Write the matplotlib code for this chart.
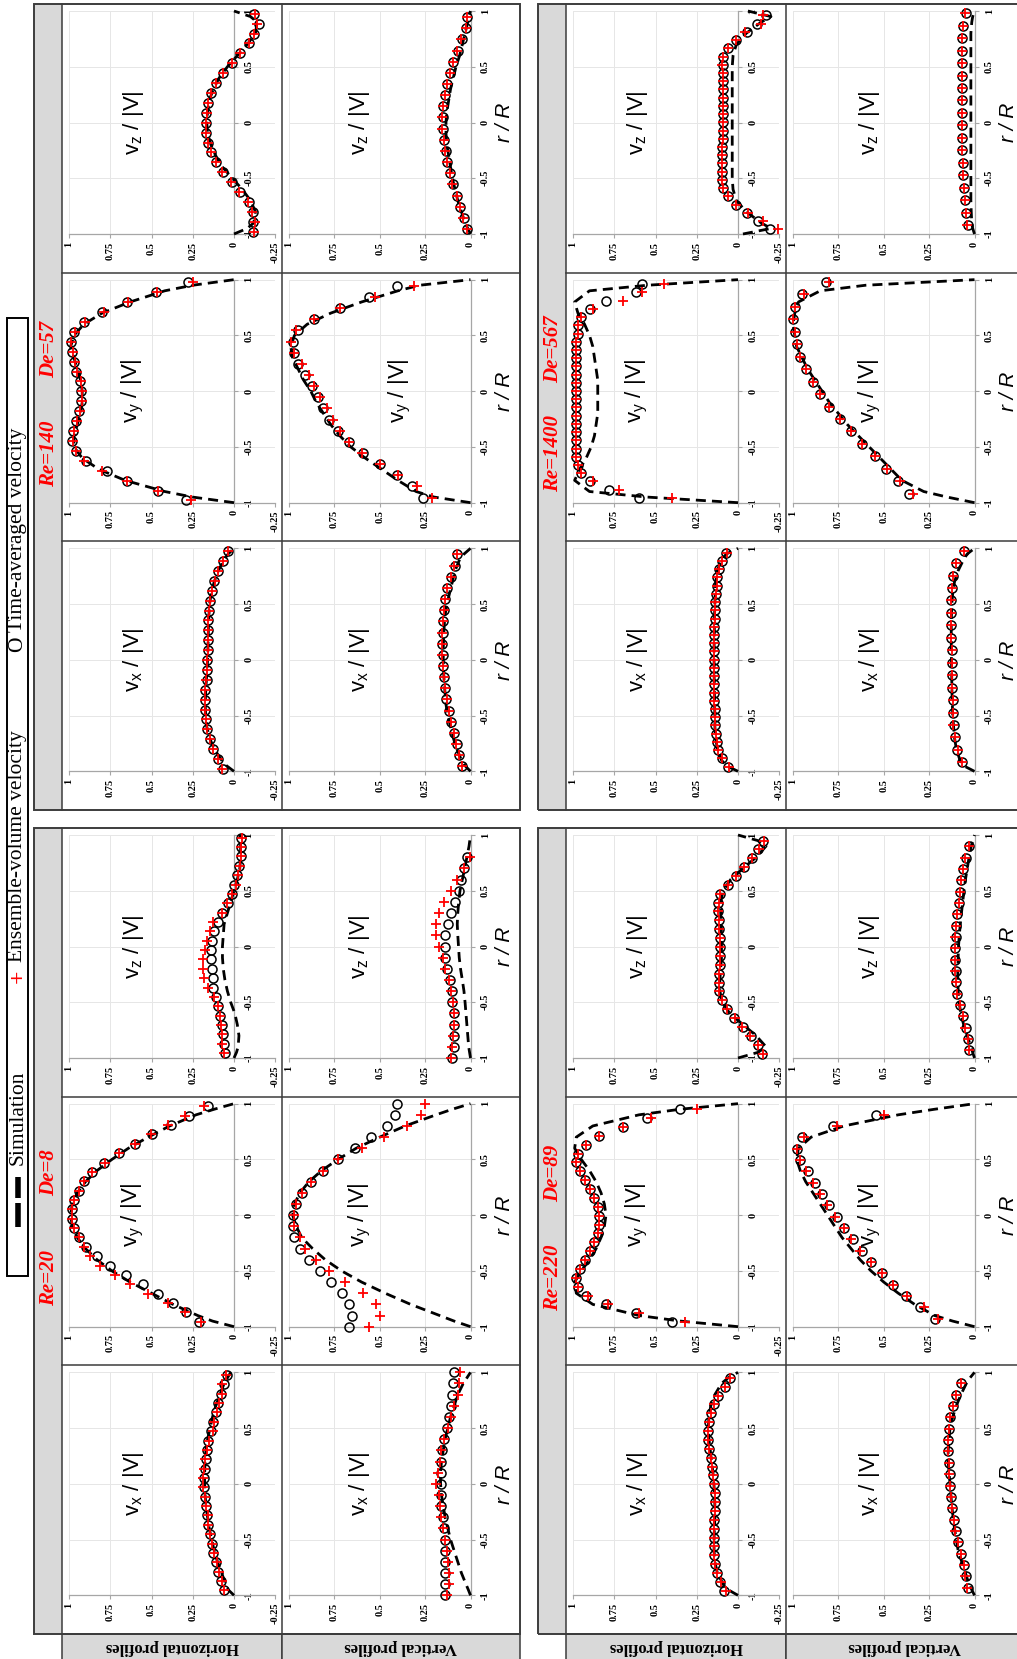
import matplotlib
matplotlib.use("Agg")
import matplotlib.pyplot as plt
from matplotlib.patches import Rectangle
from matplotlib.lines import Line2D

nan = float("nan")

plt.rcParams['mathtext.fontset'] = 'custom'
plt.rcParams['mathtext.rm'] = 'Liberation Sans'
plt.rcParams['mathtext.it'] = 'Liberation Sans:italic'
plt.rcParams['mathtext.default'] = 'regular'

# ---------------------------------------------------------------- data
# r/R grid of the simulation curves
RS = [-1.0, -0.95, -0.9, -0.8, -0.7, -0.6, -0.5, -0.4, -0.3, -0.2, -0.1, 0.0,
      0.1, 0.2, 0.3, 0.4, 0.5, 0.6, 0.7, 0.8, 0.9, 0.95, 1.0]

# ---- Re=20, De=8
RH20 = [-0.955, -0.871, -0.787, -0.703, -0.619, -0.536, -0.452, -0.368, -0.284, -0.200, -0.116, -0.032,
        0.052, 0.136, 0.220, 0.304, 0.388, 0.472, 0.556, 0.640, 0.724, 0.808, 0.892, 0.976]
RV20 = [-1.0, -0.9, -0.8, -0.7, -0.6, -0.5, -0.4, -0.3, -0.2, -0.1, 0.0,
        0.1, 0.2, 0.3, 0.4, 0.5, 0.6, 0.7, 0.8, 0.9, 1.0]
re20_vz_h_circ = [0.055, 0.06, 0.065, 0.075, 0.085, 0.095, 0.11, 0.125, 0.13, 0.135, 0.14, 0.14, 0.135, 0.12, 0.095, 0.07, 0.034, 0.014, 0.0, -0.02, -0.03, -0.04, -0.04, -0.04]
re20_vz_h_plus = [0.06, 0.07, 0.07, 0.08, 0.085, 0.095, 0.12, 0.16, 0.18, 0.185, 0.19, 0.175, 0.165, 0.145, 0.125, 0.075, 0.04, 0.014, -0.01, -0.025, -0.035, -0.04, -0.045, -0.05]
re20_vz_h_sim = [0.0, -0.015, -0.025, -0.03, -0.02, -0.005, 0.02, 0.04, 0.055, 0.065, 0.07, 0.07, 0.065, 0.06, 0.04, 0.02, 0.0, -0.02, -0.035, -0.04, -0.04, -0.04, -0.035]
re20_vz_v_circ = [0.10, 0.093, 0.093, 0.093, 0.09, 0.10, 0.10, 0.115, 0.13, 0.138, 0.14, 0.138, 0.125, 0.105, 0.085, 0.066, 0.05, 0.035, 0.02, nan, nan]
re20_vz_v_plus = [0.105, 0.1, 0.095, 0.09, 0.093, 0.095, 0.105, 0.12, 0.138, 0.15, 0.175, 0.19, 0.19, 0.175, 0.145, 0.105, 0.074, 0.037, 0.004, nan, nan]
re20_vz_v_sim = [0.0, 0.005, 0.01, 0.015, 0.02, 0.025, 0.03, 0.036, 0.045, 0.055, 0.062, 0.066, 0.07, 0.073, 0.07, 0.065, 0.058, 0.045, 0.032, 0.02, 0.008, 0.004, 0.0]
re20_vy_h_circ = [0.21, 0.29, 0.37, 0.46, 0.55, 0.655, 0.75, 0.83, 0.90, 0.94, 0.97, 0.98, 0.98, 0.97, 0.94, 0.91, 0.86, 0.79, 0.70, 0.60, 0.495, 0.38, 0.27, 0.16]
re20_vy_h_plus = [0.20, 0.30, 0.40, 0.52, 0.63, 0.72, 0.81, 0.87, 0.91, 0.94, 0.97, 0.98, 0.98, 0.97, 0.94, 0.91, 0.86, 0.78, 0.70, 0.60, 0.505, 0.40, 0.30, 0.18]
re20_vy_h_sim = [0.0, 0.13, 0.22, 0.37, 0.5, 0.63, 0.74, 0.83, 0.9, 0.95, 0.98, 0.99, 0.98, 0.95, 0.9, 0.83, 0.74, 0.64, 0.52, 0.39, 0.23, 0.12, 0.0]
re20_vy_v_circ = [0.667, 0.655, 0.667, 0.71, 0.77, 0.83, 0.89, 0.94, 0.97, 0.98, 0.98, 0.96, 0.93, 0.88, 0.81, 0.73, 0.635, 0.55, 0.46, 0.415, 0.405]
re20_vy_v_plus = [0.56, 0.50, 0.52, 0.59, 0.69, 0.78, 0.85, 0.91, 0.94, 0.97, 0.975, 0.96, 0.93, 0.88, 0.81, 0.73, 0.60, 0.475, 0.35, 0.27, 0.25]
re20_vy_v_sim = [0.0, 0.09, 0.17, 0.33, 0.47, 0.6, 0.71, 0.8, 0.87, 0.93, 0.96, 0.98, 0.97, 0.94, 0.89, 0.82, 0.73, 0.63, 0.5, 0.36, 0.19, 0.1, 0.0]
re20_vx_h_circ = [0.06, 0.08, 0.095, 0.11, 0.125, 0.135, 0.145, 0.155, 0.165, 0.17, 0.175, 0.18, 0.18, 0.175, 0.17, 0.165, 0.155, 0.14, 0.125, 0.11, 0.095, 0.08, 0.06, 0.04]
re20_vx_h_plus = [0.06, 0.075, 0.09, 0.105, 0.12, 0.135, 0.145, 0.155, 0.16, 0.17, 0.175, 0.185, 0.19, 0.18, 0.175, 0.165, 0.15, 0.13, 0.12, 0.105, 0.09, 0.075, 0.07, 0.05]
re20_vx_h_sim = [0.0, 0.035, 0.05, 0.075, 0.1, 0.12, 0.135, 0.15, 0.16, 0.17, 0.175, 0.178, 0.178, 0.175, 0.17, 0.16, 0.145, 0.13, 0.11, 0.085, 0.06, 0.04, 0.02]
re20_vx_v_circ = [0.138, 0.138, 0.138, 0.138, 0.14, 0.14, 0.145, 0.15, 0.16, 0.165, 0.165, 0.165, 0.16, 0.155, 0.145, 0.13, 0.12, 0.11, 0.1, 0.095, 0.09]
re20_vx_v_plus = [0.13, 0.12, 0.12, 0.125, 0.13, 0.14, 0.15, 0.16, 0.17, 0.175, 0.19, 0.18, 0.17, 0.16, 0.145, 0.125, 0.11, 0.09, 0.07, 0.065, 0.06]
re20_vx_v_sim = [0.0, 0.012, 0.025, 0.05, 0.07, 0.09, 0.11, 0.125, 0.14, 0.15, 0.16, 0.165, 0.165, 0.16, 0.15, 0.14, 0.125, 0.11, 0.09, 0.07, 0.04, 0.02, 0.0]

# ---- Re=140, De=57
RH140 = [-0.98, -0.891, -0.802, -0.713, -0.624, -0.535, -0.447, -0.358, -0.269, -0.180, -0.091, -0.002,
         0.087, 0.176, 0.264, 0.353, 0.442, 0.531, 0.620, 0.709, 0.798, 0.886, 0.975]
RV140 = [-0.955, -0.855, -0.755, -0.655, -0.555, -0.455, -0.355, -0.255, -0.155, -0.055,
         0.045, 0.145, 0.245, 0.345, 0.445, 0.545, 0.645, 0.745, 0.845, 0.945]
re140_vz_h_circ = [-0.114, -0.118, -0.114, -0.088, -0.036, 0.015, 0.066, 0.107, 0.138, 0.158, 0.168, 0.168, 0.168, 0.158, 0.138, 0.107, 0.066, 0.015, -0.036, -0.088, -0.122, -0.149, -0.122]
re140_vz_h_plus = [-0.12, -0.125, -0.11, -0.085, -0.03, 0.02, 0.07, 0.11, 0.14, 0.16, 0.17, 0.17, 0.165, 0.155, 0.14, 0.11, 0.065, 0.015, -0.035, -0.09, -0.12, -0.14, -0.125]
re140_vz_h_sim = [0.0, -0.08, -0.12, -0.13, -0.1, -0.05, 0.01, 0.07, 0.11, 0.14, 0.16, 0.165, 0.16, 0.15, 0.125, 0.09, 0.04, -0.02, -0.08, -0.13, -0.14, -0.1, 0.0]
re140_vz_v_circ = [0.019, 0.038, 0.056, 0.075, 0.098, 0.113, 0.128, 0.135, 0.146, 0.154, 0.154, 0.15, 0.14, 0.128, 0.113, 0.094, 0.071, 0.047, 0.023, 0.019]
re140_vz_v_plus = [0.02, 0.04, 0.058, 0.077, 0.1, 0.115, 0.13, 0.138, 0.148, 0.156, 0.156, 0.152, 0.142, 0.13, 0.115, 0.096, 0.073, 0.05, 0.027, 0.02]
re140_vz_v_sim = [0.0, 0.015, 0.03, 0.05, 0.07, 0.085, 0.1, 0.11, 0.12, 0.13, 0.135, 0.135, 0.13, 0.12, 0.11, 0.095, 0.08, 0.06, 0.045, 0.03, 0.015, 0.01, 0.0]
re140_vy_h_circ = [0.29, 0.46, 0.65, 0.77, 0.90, 0.955, 0.98, 0.975, 0.955, 0.94, 0.925, 0.925, 0.935, 0.955, 0.97, 0.98, 0.99, 0.97, 0.91, 0.80, 0.65, 0.47, 0.277]
re140_vy_h_plus = [0.26, 0.46, 0.65, 0.80, 0.91, 0.955, 0.975, 0.97, 0.95, 0.935, 0.92, 0.92, 0.93, 0.95, 0.965, 0.975, 0.985, 0.965, 0.905, 0.79, 0.645, 0.465, 0.25]
re140_vy_h_sim = [0.0, 0.25, 0.42, 0.66, 0.82, 0.92, 0.97, 0.97, 0.95, 0.93, 0.92, 0.92, 0.93, 0.95, 0.97, 0.99, 0.97, 0.91, 0.8, 0.63, 0.42, 0.25, 0.0]
re140_vy_v_circ = [0.26, 0.32, 0.405, 0.50, 0.59, 0.667, 0.73, 0.78, 0.81, 0.84, 0.875, 0.91, 0.95, 0.975, 0.98, 0.95, 0.86, 0.72, 0.56, 0.405]
re140_vy_v_plus = [0.21, 0.295, 0.40, 0.50, 0.60, 0.667, 0.72, 0.755, 0.79, 0.83, 0.86, 0.89, 0.93, 0.97, 0.99, 0.96, 0.86, 0.72, 0.525, 0.31]
re140_vy_v_sim = [0.0, 0.2, 0.3, 0.4, 0.49, 0.58, 0.66, 0.72, 0.77, 0.81, 0.85, 0.88, 0.92, 0.95, 0.98, 0.99, 0.97, 0.9, 0.77, 0.6, 0.4, 0.28, 0.0]
re140_vx_h_circ = [0.069, 0.095, 0.125, 0.145, 0.166, 0.17, 0.176, 0.176, 0.176, 0.166, 0.166, 0.163, 0.16, 0.156, 0.156, 0.156, 0.152, 0.145, 0.135, 0.119, 0.095, 0.069, 0.034]
re140_vx_h_plus = [0.07, 0.095, 0.125, 0.148, 0.165, 0.172, 0.176, 0.178, 0.174, 0.168, 0.165, 0.162, 0.16, 0.157, 0.155, 0.155, 0.15, 0.145, 0.135, 0.118, 0.095, 0.068, 0.035]
re140_vx_h_sim = [0.0, 0.045, 0.075, 0.12, 0.148, 0.165, 0.172, 0.174, 0.172, 0.168, 0.164, 0.16, 0.158, 0.156, 0.155, 0.152, 0.148, 0.138, 0.12, 0.095, 0.06, 0.035, 0.0]
re140_vx_v_circ = [0.046, 0.064, 0.077, 0.092, 0.107, 0.12, 0.133, 0.138, 0.147, 0.153, 0.153, 0.157, 0.153, 0.153, 0.147, 0.138, 0.129, 0.107, 0.088, 0.074]
re140_vx_v_plus = [0.045, 0.062, 0.078, 0.09, 0.105, 0.118, 0.13, 0.14, 0.148, 0.152, 0.155, 0.157, 0.155, 0.152, 0.148, 0.14, 0.128, 0.108, 0.09, 0.075]
re140_vx_v_sim = [0.0, 0.03, 0.05, 0.075, 0.095, 0.11, 0.125, 0.135, 0.14, 0.145, 0.148, 0.15, 0.15, 0.148, 0.145, 0.14, 0.13, 0.115, 0.1, 0.085, 0.06, 0.035, 0.0]

# ---- Re=220, De=89
RH220 = [-0.96, -0.88, -0.801, -0.721, -0.642, -0.562, -0.482, -0.403, -0.323, -0.244, -0.164, -0.084, -0.005,
         0.075, 0.155, 0.234, 0.314, 0.393, 0.473, 0.553, 0.632, 0.712, 0.791, 0.871, 0.95]
RV220 = [-0.93, -0.828, -0.727, -0.625, -0.523, -0.422, -0.32, -0.218, -0.117, -0.015,
         0.087, 0.188, 0.29, 0.392, 0.493, 0.595, 0.697, 0.798, 0.9]
re220_vz_h_circ = [-0.143, -0.123, -0.077, -0.028, 0.022, 0.065, 0.099, 0.115, 0.115, 0.113, 0.109, 0.109, 0.109, 0.109, 0.113, 0.115, 0.119, 0.119, 0.109, 0.059, 0.012, -0.036, -0.087, -0.123, -0.15]
re220_vz_h_plus = [-0.15, -0.12, -0.075, -0.025, 0.02, 0.065, 0.1, 0.115, 0.115, 0.113, 0.11, 0.109, 0.109, 0.11, 0.113, 0.115, 0.12, 0.118, 0.108, 0.06, 0.012, -0.035, -0.085, -0.125, -0.16]
re220_vz_h_sim = [0.0, -0.12, -0.17, -0.11, -0.03, 0.05, 0.095, 0.11, 0.11, 0.105, 0.1, 0.1, 0.1, 0.102, 0.105, 0.105, 0.09, 0.045, -0.03, -0.11, -0.17, -0.12, 0.0]
re220_vz_v_circ = [0.031, 0.037, 0.049, 0.064, 0.082, 0.097, 0.104, 0.104, 0.11, 0.11, 0.104, 0.101, 0.095, 0.086, 0.079, 0.073, 0.064, 0.049, 0.031]
re220_vz_v_plus = [0.032, 0.038, 0.05, 0.065, 0.082, 0.096, 0.104, 0.105, 0.11, 0.11, 0.105, 0.1, 0.095, 0.086, 0.08, 0.073, 0.064, 0.05, 0.03]
re220_vz_v_sim = [0.0, 0.01, 0.02, 0.04, 0.06, 0.075, 0.085, 0.09, 0.092, 0.092, 0.09, 0.088, 0.084, 0.078, 0.072, 0.065, 0.058, 0.05, 0.04, 0.03, 0.018, 0.01, 0.0]
re220_vy_h_circ = [0.40, 0.62, 0.80, 0.92, 0.97, 0.98, 0.96, 0.93, 0.90, 0.87, 0.85, 0.84, 0.84, 0.85, 0.87, 0.90, 0.93, 0.96, 0.98, 0.97, 0.92, 0.84, 0.70, 0.55, 0.35]
re220_vy_h_plus = [0.32, 0.60, 0.79, 0.91, 0.97, 0.98, 0.96, 0.93, 0.90, 0.87, 0.85, 0.84, 0.84, 0.85, 0.87, 0.90, 0.93, 0.96, 0.98, 0.97, 0.92, 0.84, 0.70, 0.53, 0.25]
re220_vy_h_sim = [0.0, 0.35, 0.6, 0.88, 0.98, 0.99, 0.95, 0.9, 0.86, 0.83, 0.81, 0.8, 0.81, 0.83, 0.86, 0.9, 0.95, 0.99, 0.98, 0.88, 0.6, 0.35, 0.0]
re220_vy_v_circ = [0.22, 0.30, 0.38, 0.45, 0.51, 0.57, 0.62, 0.67, 0.72, 0.76, 0.80, 0.84, 0.88, 0.92, 0.96, 0.98, 0.95, 0.78, 0.54]
re220_vy_v_plus = [0.20, 0.28, 0.37, 0.45, 0.51, 0.57, 0.63, 0.68, 0.72, 0.77, 0.81, 0.85, 0.89, 0.93, 0.96, 0.98, 0.94, 0.76, 0.50]
re220_vy_v_sim = [0.0, 0.12, 0.22, 0.33, 0.42, 0.5, 0.57, 0.63, 0.68, 0.73, 0.77, 0.81, 0.85, 0.89, 0.93, 0.96, 0.98, 0.97, 0.9, 0.72, 0.42, 0.22, 0.0]
re220_vx_h_circ = [0.085, 0.109, 0.125, 0.139, 0.145, 0.145, 0.145, 0.145, 0.143, 0.139, 0.139, 0.139, 0.145, 0.149, 0.156, 0.166, 0.174, 0.18, 0.18, 0.174, 0.164, 0.145, 0.119, 0.079, 0.048]
re220_vx_h_plus = [0.075, 0.105, 0.125, 0.14, 0.145, 0.146, 0.145, 0.145, 0.143, 0.14, 0.139, 0.14, 0.145, 0.15, 0.157, 0.166, 0.174, 0.18, 0.18, 0.175, 0.163, 0.145, 0.12, 0.078, 0.05]
re220_vx_h_sim = [0.0, 0.06, 0.09, 0.125, 0.14, 0.145, 0.145, 0.143, 0.14, 0.14, 0.142, 0.146, 0.152, 0.16, 0.168, 0.176, 0.18, 0.176, 0.165, 0.14, 0.1, 0.06, 0.0]
re220_vx_v_circ = [0.037, 0.049, 0.06, 0.073, 0.092, 0.104, 0.115, 0.123, 0.128, 0.134, 0.137, 0.141, 0.147, 0.147, 0.141, 0.134, 0.119, 0.101, 0.073]
re220_vx_v_plus = [0.04, 0.05, 0.06, 0.075, 0.09, 0.105, 0.115, 0.123, 0.13, 0.134, 0.138, 0.142, 0.147, 0.146, 0.141, 0.133, 0.12, 0.1, 0.075]
re220_vx_v_sim = [0.0, 0.015, 0.03, 0.05, 0.07, 0.09, 0.1, 0.11, 0.118, 0.125, 0.13, 0.135, 0.14, 0.145, 0.145, 0.14, 0.135, 0.12, 0.1, 0.075, 0.045, 0.025, 0.0]

# ---- Re=1400, De=567
RH1400 = [-0.957, -0.883, -0.810, -0.736, -0.662, -0.588, -0.515, -0.441, -0.367, -0.294, -0.220, -0.146, -0.072,
          0.001, 0.075, 0.149, 0.222, 0.296, 0.370, 0.444, 0.517, 0.591, 0.665, 0.739, 0.812, 0.886, 0.960]
RV1400 = [-0.92, -0.808, -0.696, -0.585, -0.473, -0.361, -0.249, -0.138, -0.026,
          0.086, 0.198, 0.309, 0.421, 0.533, 0.645, 0.756, 0.868, 0.98]
re1400_vz_h_circ = [-0.194, -0.119, -0.053, 0.012, 0.063, 0.093, 0.099, 0.099, 0.099, 0.099, 0.096, 0.093, 0.093, 0.089, 0.089, 0.089, 0.089, 0.089, 0.093, 0.093, 0.093, 0.089, 0.063, 0.012, -0.053, -0.115, -0.17]
re1400_vz_h_plus = [-0.245, -0.15, -0.06, 0.01, 0.063, 0.09, 0.099, 0.099, 0.099, 0.099, 0.096, 0.093, 0.093, 0.089, 0.089, 0.089, 0.089, 0.089, 0.093, 0.093, 0.1, 0.093, 0.063, 0.01, -0.045, -0.14, -0.15]
re1400_vz_h_sim = [-0.03, -0.2, -0.14, -0.05, 0.01, 0.03, 0.035, 0.035, 0.035, 0.035, 0.035, 0.035, 0.035, 0.035, 0.035, 0.035, 0.035, 0.03, 0.01, -0.05, -0.14, -0.2, -0.06]
re1400_vz_v_circ = [0.037, 0.046, 0.055, 0.06, 0.064, 0.064, 0.068, 0.068, 0.068, 0.068, 0.068, 0.068, 0.068, 0.068, 0.068, 0.068, 0.064, 0.049]
re1400_vz_v_plus = [0.04, 0.046, 0.055, 0.06, 0.064, 0.065, 0.068, 0.068, 0.068, 0.069, 0.068, 0.068, 0.068, 0.068, 0.068, 0.067, 0.064, 0.05]
re1400_vz_v_sim = [0.0, 0.01, 0.015, 0.018, 0.02, 0.02, 0.02, 0.02, 0.02, 0.02, 0.02, 0.02, 0.02, 0.02, 0.02, 0.02, 0.02, 0.02, 0.02, 0.02, 0.015, 0.01, 0.0]
re1400_vy_h_circ = [0.60, 0.78, 0.90, 0.95, 0.97, 0.98, 0.98, 0.98, 0.98, 0.98, 0.98, 0.98, 0.98, 0.98, 0.98, 0.98, 0.98, 0.98, 0.98, 0.98, 0.97, 0.97, 0.95, 0.90, 0.80, 0.62, 0.58]
re1400_vy_h_plus = [0.40, 0.72, 0.88, 0.95, 0.97, 0.98, 0.98, 0.98, 0.98, 0.98, 0.98, 0.98, 0.98, 0.98, 0.98, 0.98, 0.98, 0.98, 0.98, 0.98, 0.97, 0.97, 0.95, 0.88, 0.70, 0.58, 0.45]
re1400_vy_h_sim = [0.0, 0.55, 0.9, 0.99, 0.96, 0.92, 0.89, 0.87, 0.86, 0.85, 0.85, 0.85, 0.85, 0.86, 0.87, 0.88, 0.9, 0.93, 0.97, 0.99, 0.9, 0.55, 0.0]
re1400_vy_v_circ = [0.36, 0.42, 0.49, 0.55, 0.62, 0.68, 0.74, 0.80, 0.85, 0.89, 0.93, 0.96, 0.98, 0.99, 1.0, 0.99, 0.95, 0.82]
re1400_vy_v_plus = [0.34, 0.41, 0.48, 0.55, 0.62, 0.68, 0.74, 0.80, 0.85, 0.89, 0.93, 0.96, 0.98, 0.99, 1.0, 0.99, 0.94, 0.80]
re1400_vy_v_sim = [0.0, 0.15, 0.28, 0.4, 0.46, 0.52, 0.58, 0.64, 0.7, 0.75, 0.8, 0.84, 0.88, 0.92, 0.95, 0.98, 0.99, 1.0, 0.99, 0.97, 0.85, 0.6, 0.0]
re1400_vx_h_circ = [0.06, 0.10, 0.12, 0.13, 0.135, 0.14, 0.14, 0.14, 0.145, 0.145, 0.145, 0.145, 0.145, 0.145, 0.145, 0.145, 0.145, 0.145, 0.14, 0.14, 0.14, 0.135, 0.13, 0.125, 0.115, 0.10, 0.07]
re1400_vx_h_plus = [0.055, 0.095, 0.12, 0.13, 0.136, 0.14, 0.14, 0.142, 0.145, 0.145, 0.146, 0.145, 0.145, 0.145, 0.146, 0.145, 0.145, 0.144, 0.14, 0.14, 0.14, 0.135, 0.13, 0.125, 0.115, 0.10, 0.065]
re1400_vx_h_sim = [0.0, 0.07, 0.1, 0.125, 0.135, 0.14, 0.14, 0.142, 0.143, 0.144, 0.145, 0.145, 0.145, 0.144, 0.143, 0.142, 0.14, 0.138, 0.135, 0.125, 0.1, 0.07, 0.0]
re1400_vx_v_circ = [0.07, 0.095, 0.11, 0.115, 0.12, 0.12, 0.125, 0.125, 0.125, 0.125, 0.128, 0.13, 0.13, 0.13, 0.125, 0.12, 0.10, 0.06]
re1400_vx_v_plus = [0.07, 0.093, 0.11, 0.116, 0.12, 0.121, 0.125, 0.126, 0.125, 0.125, 0.128, 0.13, 0.13, 0.13, 0.126, 0.12, 0.10, 0.06]
re1400_vx_v_sim = [0.0, 0.06, 0.08, 0.1, 0.11, 0.115, 0.12, 0.122, 0.124, 0.125, 0.126, 0.127, 0.128, 0.128, 0.128, 0.127, 0.125, 0.12, 0.11, 0.09, 0.06, 0.04, 0.0]

# ---------------------------------------------------------------- layout helpers
W, H = 1017, 1659
fig = plt.figure(figsize=(W / 100, H / 100), dpi=100)
SERIF = 'Liberation Serif'
SANS = 'Liberation Sans'
FRAME = '#3c3c3c'
GREYBAND = '#d9d9d9'
AXCOL = '#a6a6a6'


def fx(x):
    return x / W


def fy(y):
    return 1 - y / H


def frect(x, y, w, h, **kw):
    fig.add_artist(Rectangle((fx(x), fy(y + h)), w / W, h / H,
                             transform=fig.transFigure, **kw))


def fline(x1, y1, x2, y2, **kw):
    fig.add_artist(Line2D([fx(x1), fx(x2)], [fy(y1), fy(y2)],
                          transform=fig.transFigure, **kw))


def ftext(x, y, s, **kw):
    fig.text(fx(x), fy(y), s, **kw)


def style_axes(ax, kind):
    if kind == 'h':
        ax.set_xlim(1, -0.25)
        vt = [1, 0.75, 0.5, 0.25, 0, -0.25]
        vl = ['1', '0.75', '0.5', '0.25', '0', '-0.25']
    else:
        ax.set_xlim(1, 0)
        vt = [1, 0.75, 0.5, 0.25, 0]
        vl = ['1', '0.75', '0.5', '0.25', '0']
    ax.set_ylim(-1, 1)
    # spine position first (it resets the ticks)
    ax.spines['right'].set_position(('data', 0.0))
    for s in ('top', 'left'):
        ax.spines[s].set_visible(False)
    for s in ('bottom', 'right'):
        ax.spines[s].set_color(AXCOL)
        ax.spines[s].set_linewidth(0.9)
    ax.yaxis.tick_right()
    ax.tick_params(axis='x', length=3, width=0.8, color=AXCOL, pad=2.5,
                   labelsize=7.5, labelrotation=90)
    ax.tick_params(axis='y', length=3, width=0.8, color=AXCOL, pad=4.5,
                   right=True, left=False, labelright=True, labelleft=False,
                   labelsize=7.5, labelrotation=90)
    ax.set_xticks(vt, vl)
    ax.set_yticks([-1, -0.5, 0, 0.5, 1], ['-1', '-0.5', '0', '0.5', '1'])
    for t in ax.xaxis.get_major_ticks():
        t.label1.set_fontweight('bold')
        t.label1.set_family(SERIF)
    for t in ax.yaxis.get_major_ticks():
        t.label2.set_fontweight('bold')
        t.label2.set_family(SERIF)
        t.label2.set_va('center')
    ax.grid(True, color='#e6e6e6', lw=0.7)
    ax.set_axisbelow(True)
    ax.patch.set_alpha(0)


def draw_series(ax, r, circ, plus, sim):
    ax.plot(circ, r, ls='none', marker='o', ms=6.5, mfc='none', mec='black', mew=1.1,
            zorder=3, clip_on=False)
    ax.plot(sim, RS, color='black', lw=2.0, dashes=(3.6, 2.2), zorder=4, clip_on=False)
    ax.plot(plus, r, ls='none', marker='+', ms=7.5, mec='red', mew=1.3, zorder=5, clip_on=False)


GROUPS = [
    dict(x0=34, y0=4, re='Re=140', de='De=57', rh=RH140, rv=RV140, p='re140', vlab={'y': 366}),
    dict(x0=538, y0=4, re='Re=1400', de='De=567', rh=RH1400, rv=RV1400, p='re1400', vlab={}),
    dict(x0=34, y0=828, re='Re=20', de='De=8', rh=RH20, rv=RV20, p='re20', vlab={}),
    dict(x0=538, y0=828, re='Re=220', de='De=89', rh=RH220, rv=RV220, p='re220', vlab={}),
]
GW, GH = 486, 806
CH = GH / 3.0
COMPS = ['z', 'y', 'x']
G = globals()

for g in GROUPS:
    x0, y0 = g['x0'], g['y0']
    frect(x0, y0, 28, GH, fc=GREYBAND, ec='none', zorder=1)
    frect(x0, y0, GW, GH, fc='none', ec=FRAME, lw=1.4, zorder=6)
    fline(x0 + 28, y0, x0 + 28, y0 + GH, color=FRAME, lw=1.1, zorder=6)
    fline(x0 + 248, y0, x0 + 248, y0 + GH, color=FRAME, lw=1.1, zorder=6)
    for k in (1, 2):
        fline(x0 + 28, y0 + k * CH, x0 + GW, y0 + k * CH, color=FRAME, lw=1.1, zorder=6)
    ftext(x0 + 15, y0 + 450, g['re'], rotation=90, ha='center', va='center', color='red',
          fontsize=15, fontweight='bold', style='italic', family=SERIF)
    ftext(x0 + 15, y0 + 345, g['de'], rotation=90, ha='center', va='center', color='red',
          fontsize=15, fontweight='bold', style='italic', family=SERIF)

    for k, c in enumerate(COMPS):
        ct = y0 + k * CH
        ytop, ybot = ct + 7, ct + 230
        ymid = (ytop + ybot) / 2
        # horizontal profile
        axh = fig.add_axes([fx(x0 + 35), fy(ybot), 206.25 / W, (ybot - ytop) / H])
        style_axes(axh, 'h')
        pre = g['p'] + '_v' + c
        draw_series(axh, g['rh'], G[pre + '_h_circ'], G[pre + '_h_plus'], G[pre + '_h_sim'])
        # vertical profile
        axv = fig.add_axes([fx(x0 + 255), fy(ybot), 181.5 / W, (ybot - ytop) / H])
        style_axes(axv, 'v')
        draw_series(axv, g['rv'], G[pre + '_v_circ'], G[pre + '_v_plus'], G[pre + '_v_sim'])

        lab = '$v_%s$ / |V|' % c
        ftext(x0 + 99, ymid, lab, rotation=90, ha='center', va='center', fontsize=16, family=SANS)
        vx_off = g['vlab'].get(c, 326 if x0 < 300 else 332)
        ftext(x0 + vx_off, ymid, lab, rotation=90, ha='center', va='center', fontsize=16, family=SANS)
        ftext(x0 + 471, ymid, 'r / R', rotation=90, ha='center', va='center', fontsize=15,
              style='italic', family=SANS)

    if y0 > 400:
        frect(x0 + 28, y0 + GH, 220, 40, fc=GREYBAND, ec=FRAME, lw=1.1, zorder=5)
        frect(x0 + 248, y0 + GH, 238, 40, fc=GREYBAND, ec=FRAME, lw=1.1, zorder=5)
        ftext(x0 + 138, 1647, 'Horizontal profiles', rotation=180, ha='center', va='center',
              fontsize=12, fontweight='bold', family=SERIF, zorder=7)
        ftext(x0 + 367, 1647, 'Vertical profiles', rotation=180, ha='center', va='center',
              fontsize=12, fontweight='bold', family=SERIF, zorder=7)

# ---------------------------------------------------------------- legend
frect(7, 318, 21, 958, fc='white', ec='black', lw=1.4, zorder=6)
fline(17.5, 1177, 17.5, 1198, color='black', lw=4, solid_capstyle='butt', zorder=7)
fline(17.5, 1203, 17.5, 1227, color='black', lw=4, solid_capstyle='butt', zorder=7)
ftext(18, 1165, 'Simulation', rotation=90, ha='center', va='bottom', fontsize=15.5,
      family=SERIF, zorder=7)
ftext(18, 976, '+', rotation=90, ha='center', va='center', fontsize=17, fontweight='bold',
      color='red', family=SERIF, zorder=7)
ftext(18, 962, 'Ensemble-volume velocity', rotation=90, ha='center', va='bottom', fontsize=15.5,
      family=SERIF, zorder=7)
ftext(18, 652, 'O', rotation=90, ha='center', va='bottom', fontsize=15.5, family=SERIF, zorder=7)
ftext(18, 632, 'Time-averaged velocity', rotation=90, ha='center', va='bottom', fontsize=15.5,
      family=SERIF, zorder=7)

fig.savefig('out.png', dpi=100)
